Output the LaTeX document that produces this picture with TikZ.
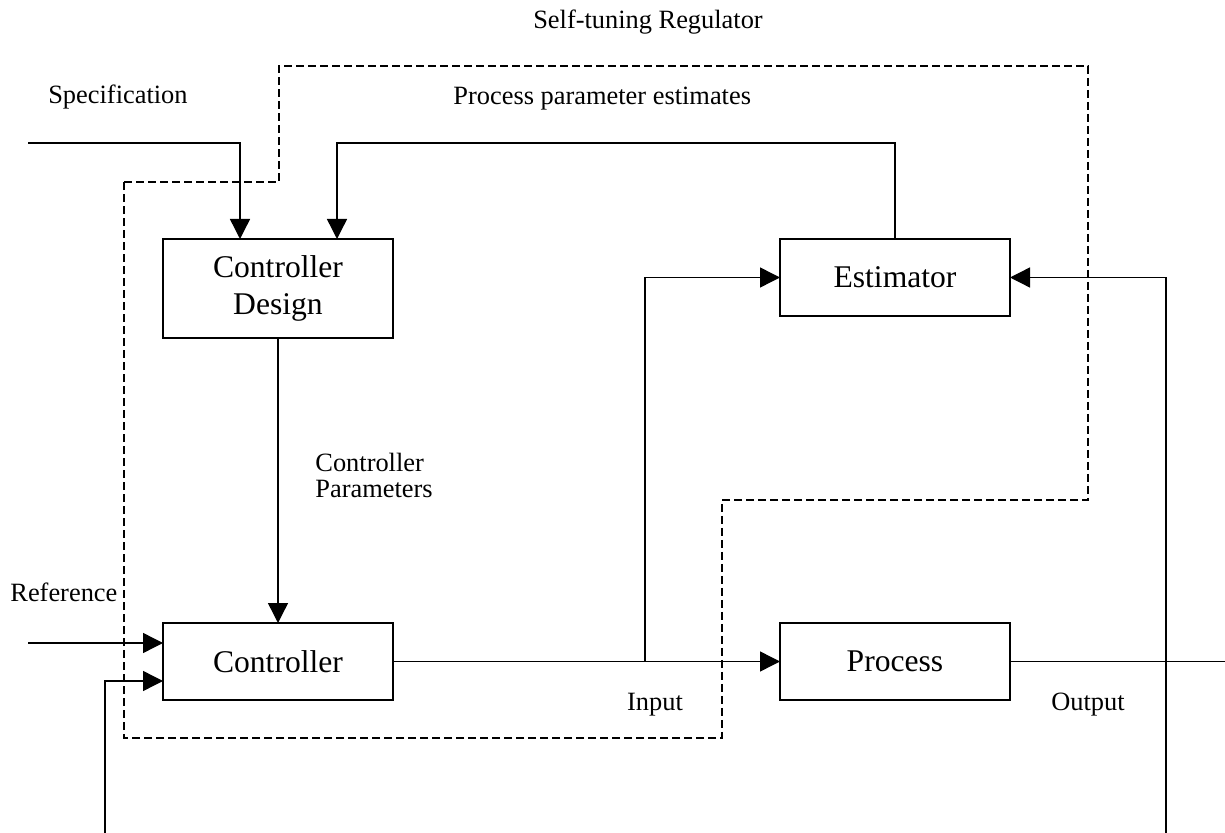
\documentclass[tikz,border=0pt]{standalone}
\usepackage{fontspec}
\setmainfont{Liberation Serif}
\usetikzlibrary{arrows.meta, positioning}

\begin{document}
\begin{tikzpicture}[
  x=0.5pt, y=-0.5pt,
  every node/.style={font=\fontsize{13.2}{13}\selectfont, inner sep=0pt},
  block/.style={rectangle, draw, line width=0.7pt, outer sep=0pt, minimum width=115pt, minimum height=38.5pt, align=center, font=\fontsize{15.8}{18.5}\selectfont},
  sig/.style={line width=0.7pt},
  arr/.style={sig, -{Triangle[length=10pt, width=10pt]}},
  region/.style={line width=0.7pt, dash pattern=on 4pt off 2pt},
]
\useasboundingbox (0,0) rectangle (1225,833);

\node[block, minimum height=49.5pt] (design) at (278,288.5) {Controller\\Design};
\node[block] (ctrl) at (278,661.5) {Controller};
\node[block, right=193.5pt of ctrl] (proc) {Process};
\node[block, above=153.5pt of proc] (estim) {Estimator};

\node (stlabel) at (648,22) {Self-tuning Regulator};
\node[anchor=east] (speclabel) at (188,97) {Specification};
\node[anchor=west] (ppelabel) at (453,99) {Process parameter estimates};
\node[anchor=west, align=left] (cparlabel) at (315,475) {Controller\\Parameters};
\node[anchor=west] (reflabel) at (10,592) {Reference};
\node (inlabel) at (655,705) {Input};
\node (outlabel) at (1088,705) {Output};

\coordinate (specin) at (28,143);
\coordinate (refin) at (28,643);
\coordinate (fbl) at (105,833);
\coordinate (fbr) at (1166,833);
\coordinate (tap) at (645,661.5);
\coordinate (outend) at (1225,661.5);

\draw[region] (124,182) -- (279,182) -- (279,66) -- (1088,66) -- (1088,500) -- (722,500) -- (722,738) -- (124,738) -- cycle;

\draw[arr] (specin) -| ([xshift=-19pt]design.north);
\draw[arr] (estim.north) -- (estim.north |- specin) -| ([xshift=29.5pt]design.north);
\draw[arr] (design) -- (ctrl);
\draw[arr] (refin) -- (refin -| ctrl.west);
\draw[arr] (fbl) |- ([yshift=-9.75pt]ctrl.west);
\draw[arr] (ctrl) -- (proc);
\draw[arr] (tap) |- (estim.west);
\draw[sig] (proc) -- (outend);
\draw[arr] (fbr) |- (estim.east);

\end{tikzpicture}
\end{document}
